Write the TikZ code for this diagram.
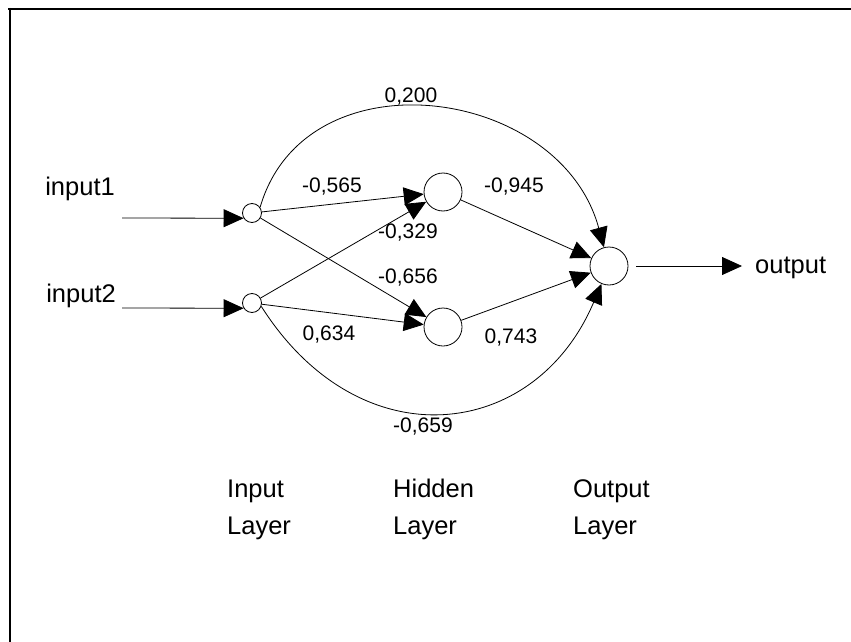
\documentclass[tikz,border=0pt]{standalone}
\usepackage{fontspec}
\setmainfont{Liberation Sans}
\usetikzlibrary{arrows.meta}
\begin{document}
\begin{tikzpicture}[x=1pt,y=-1pt,
  neuron/.style={circle,draw,line width=0.8pt,fill=white,inner sep=0pt},
  wire/.style={line width=0.8pt,-{Triangle[length=20pt,width=18pt]}},
  wt/.style={anchor=base,inner sep=0pt,font=\fontsize{21}{25}\selectfont},
  lbl/.style={inner sep=0pt,font=\fontsize{25.5}{30}\selectfont}]
\useasboundingbox (0,0) rectangle (851,642);
% frame (top and left edges)
\draw[line width=2.5pt] (8,9) -- (851,9);
\draw[line width=2.5pt] (10,8) -- (10,642);
% neurons
\node[neuron,minimum size=19pt] (i1) at (252,213) {};
\node[neuron,minimum size=19pt] (i2) at (252,303) {};
\node[neuron,minimum size=38pt] (h1) at (443,192) {};
\node[neuron,minimum size=38pt] (h2) at (443,327) {};
\node[neuron,minimum size=38pt] (o) at (609,266) {};
% free ends
\coordinate (s1) at (122,218);
\coordinate (s2) at (122,308);
\coordinate (oe) at (742,266);
% texts
\node[lbl,anchor=base east] (tin1) at (115,195) {input1};
\node[lbl,anchor=base east] (tin2) at (116,302) {input2};
\node[lbl,anchor=base west] (tout) at (755,273) {output};
\node[lbl,anchor=base west] (l1a) at (227,497) {Input};
\node[lbl,anchor=base west] (l1b) at (227,534) {Layer};
\node[lbl,anchor=base west] (l2a) at (393,497) {Hidden};
\node[lbl,anchor=base west] (l2b) at (393,534) {Layer};
\node[lbl,anchor=base west] (l3a) at (573,497) {Output};
\node[lbl,anchor=base west] (l3b) at (573,534) {Layer};
% connectors
\draw[wire] (s1) -- (i1.212);
\draw[wire] (s2) -- (i2.212);
\draw[wire] (i1) -- (h1);
\draw[wire] (i1) -- (h2);
\draw[wire] (i2) -- (h1);
\draw[wire] (i2) -- (h2);
\draw[wire] (h1) -- (o);
\draw[wire] (h2) -- (o);
\draw[wire] (i1.35) .. controls (305,52) and (560,85) .. (o);
\draw[wire] (i2.-20) .. controls (360,462) and (535,441) .. (o);
\draw[wire,shorten <=8pt] (o) -- (oe);
% weights
\node[wt] (w1) at (411,102) {0,200};
\node[wt] (w2) at (332,192) {-0,565};
\node[wt] (w3) at (514,192) {-0,945};
\node[wt] (w4) at (408,238) {-0,329};
\node[wt] (w5) at (408,283) {-0,656};
\node[wt] (w6) at (329,340) {0,634};
\node[wt] (w7) at (511,343) {0,743};
\node[wt] (w8) at (423,432) {-0,659};
\end{tikzpicture}
\end{document}
